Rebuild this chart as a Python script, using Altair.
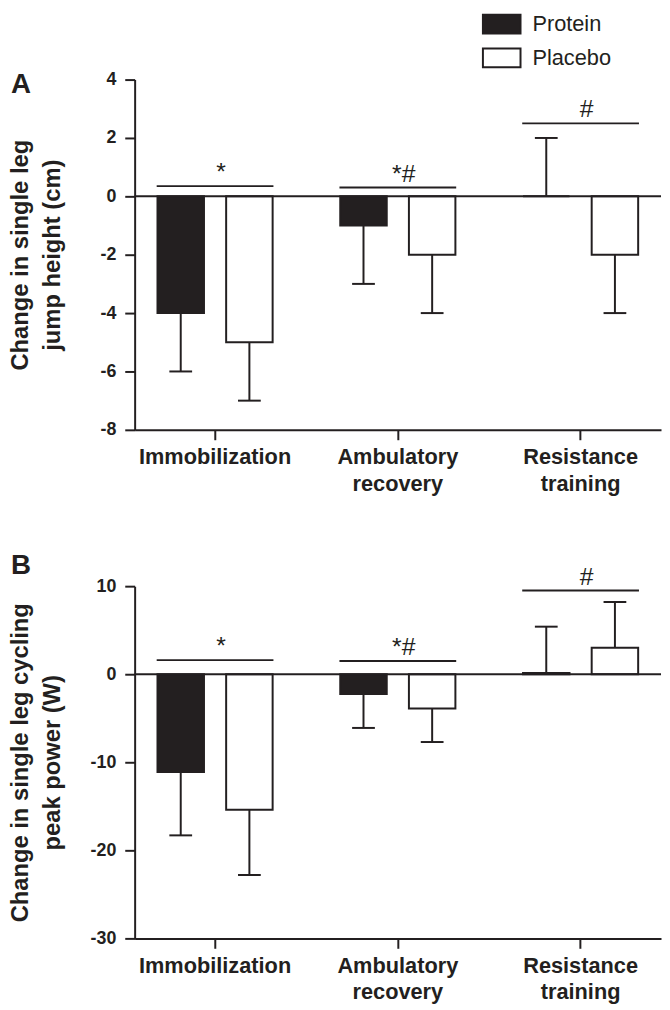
import altair as alt
import pandas as pd

FONT = "Liberation Sans"
INK = "#231f20"
MINUS = "\u2212"

categories = ["Immobilization", "Ambulatory recovery", "Resistance training"]
groups = ["Protein", "Placebo"]

# Panel A: change in single leg jump height (cm)
jump_protein = [-4.0, -1.0, 0.0]
jump_placebo = [-5.0, -2.0, -2.0]
jump_protein_err = [-6.0, -3.0, 2.0]
jump_placebo_err = [-7.0, -4.0, -4.0]
jump_sig_level = [0.35, 0.3, 2.5]
jump_sig_text = ["*", "*#", "#"]

# Panel B: change in single leg cycling peak power (W)
power_protein = [-11.1, -2.25, 0.15]
power_placebo = [-15.4, -3.9, 3.0]
power_protein_err = [-18.3, -6.1, 5.4]
power_placebo_err = [-22.8, -7.7, 8.2]
power_sig_level = [1.6, 1.5, 9.5]
power_sig_text = ["*", "*#", "#"]


def bars_df(prot, plac, prot_e, plac_e):
    rows = []
    for i, c in enumerate(categories):
        rows.append({"cat": c, "grp": "Protein", "v": prot[i], "e": prot_e[i]})
        rows.append({"cat": c, "grp": "Placebo", "v": plac[i], "e": plac_e[i]})
    return pd.DataFrame(rows)


def sig_df(levels, texts):
    return pd.DataFrame({"cat": categories, "lev": levels, "txt": texts})


def panel(df, sig, domain, ticks, title_lines, letter, letter_dy, height, legend):
    xs = alt.Scale(domain=categories, paddingInner=0.37, paddingOuter=0.125)
    xaxis = alt.Axis(title=None, labelAngle=0, labelExpr="split(datum.label, ' ')",
                     domainColor=INK, domainWidth=2, tickColor=INK, tickWidth=2,
                     tickSize=10, labelPadding=7, labelFontSize=22,
                     labelLineHeight=27, labelColor=INK, labelFont=FONT,
                     labelFontWeight="bold")
    ys = alt.Scale(domain=domain, nice=False, zero=False)
    yaxis = alt.Axis(values=ticks, title=title_lines, grid=False, domainColor=INK,
                     domainWidth=2, tickColor=INK, tickWidth=2, tickSize=10,
                     labelPadding=9, labelFontSize=18, labelColor=INK,
                     labelFont=FONT, labelFontWeight="bold",
                     labelExpr=f"replace(datum.label, '{MINUS}', '-')",
                     titleFont=FONT, titleFontSize=24, titleFontWeight="bold",
                     titleColor=INK, titleLineHeight=32, titleX=-103,
                     titleY=height / 2)

    def X():
        return alt.X("cat:N", scale=xs, axis=xaxis, sort=categories)

    def XO():
        return alt.XOffset("grp:N", sort=groups,
                           scale=alt.Scale(domain=groups, paddingInner=0.323, paddingOuter=0))

    def Y(f):
        return alt.Y(f"{f}:Q", scale=ys, axis=yaxis)

    fill = alt.Fill("grp:N", sort=groups,
                    scale=alt.Scale(domain=groups, range=[INK, "white"]),
                    legend=legend)

    base = alt.Chart(df)
    err = base.mark_rule(color=INK, strokeWidth=2).encode(
        x=X(), xOffset=XO(), y=Y("v"), y2="e:Q")
    cap = base.mark_tick(color=INK, thickness=2, size=23, opacity=1).encode(
        x=X(), xOffset=XO(), y=Y("e"))
    bars = base.mark_bar(stroke=INK, strokeWidth=2).encode(
        x=X(), xOffset=XO(), y=Y("v"), y2=alt.datum(0), fill=fill)
    zero = alt.Chart(alt.Data(values=[{"z": 0}])).mark_rule(
        color=INK, strokeWidth=2).encode(y=alt.Y("z:Q", scale=ys, axis=yaxis))
    sbase = alt.Chart(sig)
    sline = sbase.mark_tick(color=INK, thickness=2, size=118, opacity=1).encode(
        x=X(), y=Y("lev"))
    stext = sbase.mark_text(baseline="alphabetic", dx=6, dy=-6, fontSize=25,
                            font=FONT, color=INK).encode(
        x=X(), y=Y("lev"), text="txt:N")

    return alt.layer(err, cap, bars, zero, sline, stext).properties(
        width=532, height=height,
        title=alt.TitleParams(letter, anchor="start", frame="group",
                              orient="top", baseline="alphabetic", offset=0,
                              dx=-125, dy=letter_dy, fontSize=28, font=FONT,
                              fontWeight="bold", color=INK))


legend_a = alt.Legend(title=None, orient="none", legendX=360, legendY=-67,
                      symbolType="M-2,-1H2V1H-2Z", symbolSize=361,
                      symbolStrokeColor=INK, symbolStrokeWidth=2,
                      labelFont=FONT, labelFontSize=22, labelColor=INK,
                      labelOffset=20, rowPadding=6, padding=0)

chart_a = panel(bars_df(jump_protein, jump_placebo, jump_protein_err, jump_placebo_err),
                sig_df(jump_sig_level, jump_sig_text), [-8, 4],
                [-8, -6, -4, -2, 0, 2, 4],
                ["Change in single leg", "jump height (cm)"], "A", 51, 354, legend_a)
chart_b = panel(bars_df(power_protein, power_placebo, power_protein_err, power_placebo_err),
                sig_df(power_sig_level, power_sig_text), [-30, 10],
                [-30, -20, -10, 0, 10],
                ["Change in single leg cycling", "peak power (W)"], "B", 37, 356, None)

chart = alt.vconcat(chart_a, chart_b, spacing=158, bounds="flush").properties(
    padding={"left": 0, "top": 0, "right": 0, "bottom": 0}
).configure_view(stroke=None)

chart.save("out.html", embed_options={"renderer": "svg", "actions": False})
